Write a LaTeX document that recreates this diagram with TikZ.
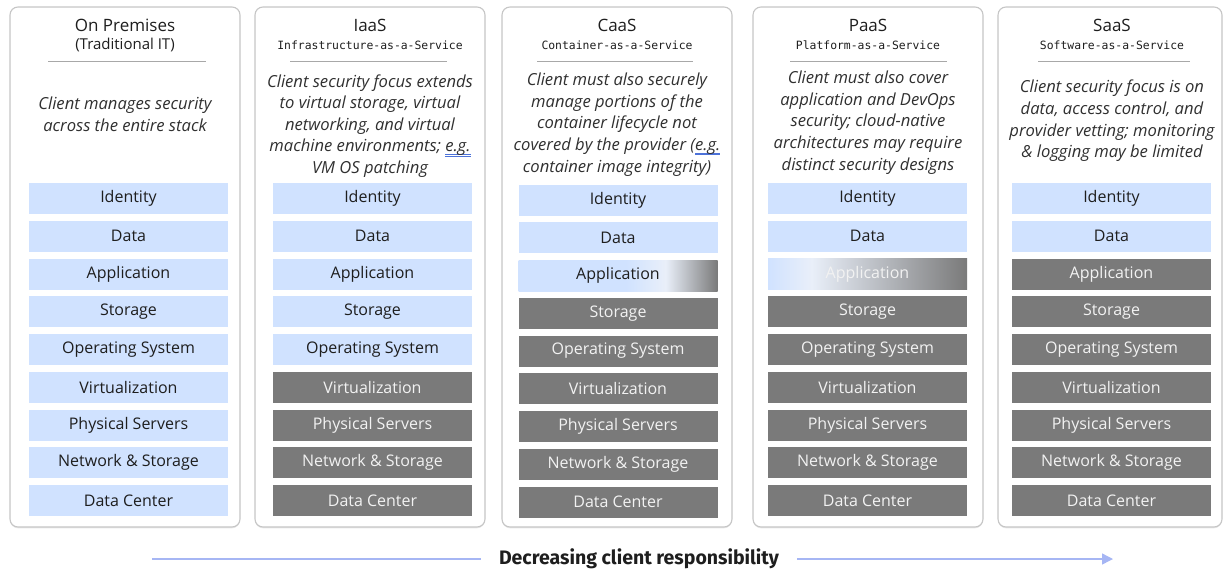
\documentclass[tikz,border=0pt]{standalone}
\usepackage{fontspec}
\setmainfont{Open Sans}
\newfontfamily\monofam{DejaVu Sans Mono}
\newfontfamily\headfam{Fira Sans}
\usetikzlibrary{arrows.meta,shadows}

\definecolor{barblue}{HTML}{D0E2FF}
\definecolor{bargray}{HTML}{7A7A7A}
\definecolor{barpale}{HTML}{E9EFF9}
\definecolor{cardline}{HTML}{C6C6C6}
\definecolor{rulegray}{HTML}{A8A8A8}
\definecolor{inkdark}{HTML}{1E1E1E}
\definecolor{inkdesc}{HTML}{303030}
\definecolor{ongray}{HTML}{F2F2F2}
\definecolor{arrowblue}{HTML}{A6B6F4}
\definecolor{egblue}{HTML}{4C72D9}

% horizontal fades for the partly shared "Application" layer
\pgfdeclarehorizontalshading{appfadeA}{100bp}{color(0bp)=(barblue); color(25bp)=(barblue); color(52bp)=(barblue); color(62bp)=(barpale); color(75bp)=(bargray); color(100bp)=(bargray)}
\pgfdeclarehorizontalshading{appfadeB}{100bp}{color(0bp)=(barblue); color(25bp)=(barblue); color(36bp)=(barpale); color(75bp)=(bargray); color(100bp)=(bargray)}

% double underline used for "e.g."
\newsavebox\egbox
\newcommand\egmark[1]{\sbox\egbox{#1}\rlap{\textcolor{egblue}{\rule[-2.8pt]{\wd\egbox}{0.6pt}}}\rlap{\textcolor{egblue}{\rule[-4.6pt]{\wd\egbox}{0.6pt}}}\usebox\egbox}

\tikzset{
  card/.style={draw=cardline, line width=1.1pt, rounded corners=8pt, fill=white,
    minimum height=520pt, inner sep=0pt,
    drop shadow={shadow xshift=0pt, shadow yshift=-1.3pt, opacity=0.25, fill=black!35}},
  title/.style={font=\fontsize{17}{19}\selectfont, text=inkdark, inner sep=0pt},
  subtitle/.style={font=\monofam\fontsize{11.4}{13}\selectfont, text=inkdark, inner sep=0pt},
  subtitlesans/.style={font=\fontsize{15}{17}\selectfont, text=inkdark, inner sep=0pt},
  headrule/.style={draw=rulegray, line width=0.8pt},
  desc/.style={font=\fontsize{16.6}{21.6}\selectfont\itshape, text=inkdesc, align=center, inner sep=0pt},
  bar/.style={minimum width=199pt, minimum height=31pt, inner sep=0pt, font=\fontsize{16}{18}\selectfont},
  barL/.style={bar, fill=barblue, text=inkdark},
  barD/.style={bar, fill=bargray, text=ongray},
  barA/.style={bar, shading=appfadeA, text=inkdark},
  barB/.style={bar, shading=appfadeB, text=ongray},
  flow/.style={draw=arrowblue, line width=1.4pt},
}

\begin{document}
\begin{tikzpicture}[x=1pt,y=-1pt]
\useasboundingbox (0,0) rectangle (1224,571);

% service model cards
\node[card, minimum width=230pt] (c1) at (125,267) {};
\node[card, minimum width=230pt] (c2) at (370,267) {};
\node[card, minimum width=230pt] (c3) at (617,267) {};
\node[card, minimum width=230pt] (c4) at (868,267) {};
\node[card, minimum width=224pt] (c5) at (1110,267) {};

% headings
\node[title] (t1) at (125,25) {On Premises};
\node[subtitlesans] (s1) at (125,45) {(Traditional IT)};
\node[title] (t2) at (370,25) {IaaS};
\node[subtitle] (s2) at (370,45) {Infrastructure-as-a-Service};
\node[title] (t3) at (617,25) {CaaS};
\node[subtitle] (s3) at (617,45) {Container-as-a-Service};
\node[title] (t4) at (868,25) {PaaS};
\node[subtitle] (s4) at (868,45) {Platform-as-a-Service};
\node[title] (t5) at (1112,25) {SaaS};
\node[subtitle] (s5) at (1112,45) {Software-as-a-Service};

\foreach \a/\b [count=\k] in {48/206, 290/447, 537/693, 790/947, 1038/1190}{
  \coordinate (rl\k) at (\a,61.5);
  \coordinate (rr\k) at (\b,61.5);
  \draw[headrule] (rl\k) -- (rr\k);
}

% responsibility notes
\node[desc] (d1) at (125,114) {Client manages security\\across the entire stack};
\node[desc] (d2) at (370,126) {Client security focus extends\\to virtual storage, virtual\\networking, and virtual\\machine environments; \egmark{e.g.}\\VM OS patching};
\node[desc] (d3) at (617,124.5) {Client must also securely\\manage portions of the\\container lifecycle not\\covered by the provider (\egmark{e.g.}\\container image integrity)};
\node[desc] (d4) at (868,122.5) {Client must also cover\\application and DevOps\\security; cloud-native\\architectures may require\\distinct security designs};
\node[desc] (d5) at (1112,121) {Client security focus is on\\data, access control, and\\provider vetting; monitoring\\\& logging may be limited};

% stack layers: light = client managed, dark = provider managed
\foreach \bx/\dy/\dk [count=\k] in {128.5/0/10, 372.5/0/6, 618/1.5/4, 867.5/0/4, 1111.5/0/3}{
  \foreach \lab [count=\r] in {Identity,Data,Application,Storage,Operating System,Virtualization,Physical Servers,Network \& Storage,Data Center}{
    \pgfmathsetmacro\yy{198.5+(\r-1)*37.75+\dy}
    \ifnum\r<\dk \def\sty{barL}\else\def\sty{barD}\fi
    \ifnum\k=3 \ifnum\r=3 \def\sty{barA}\fi\fi
    \ifnum\k=4 \ifnum\r=3 \def\sty{barB}\fi\fi
    \node[\sty] (b\k-\r) at (\bx,\yy) {\lab};
  }
}

% direction of responsibility
\node[font=\headfam\bfseries\fontsize{19.5}{22}\selectfont, text=inkdark, inner xsep=18pt, inner ysep=0pt] (dec) at (639,559) {Decreasing client responsibility};
\coordinate (fl) at (152,559);
\coordinate (fr) at (1113,559);
\draw[flow] (fl) -- (dec.west);
\draw[flow, -{Triangle[length=11pt,width=11pt]}] (dec.east) -- (fr);
\end{tikzpicture}
\end{document}
